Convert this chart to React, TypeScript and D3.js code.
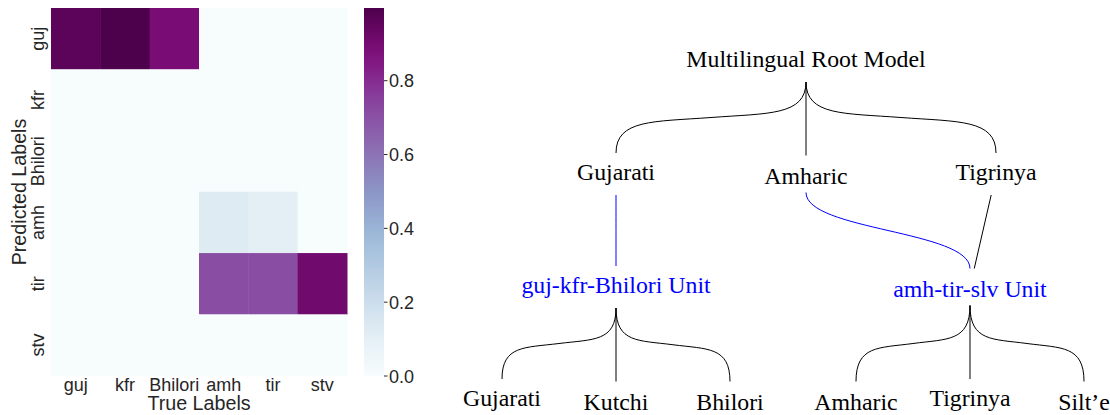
import React from 'react';
import * as d3 from 'd3';

// confusion matrix: rows = predicted, columns = true
const rowLabels = ['guj', 'kfr', 'Bhilori', 'amh', 'tir', 'stv'];
const colLabels = ['guj', 'kfr', 'Bhilori', 'amh', 'tir', 'stv'];
const gujRow = [0.96, 0.997, 0.89, 0, 0, 0];
const kfrRow = [0, 0, 0, 0, 0, 0];
const bhiloriRow = [0, 0, 0, 0, 0, 0];
const amhRow = [0, 0, 0, 0.13, 0.11, 0];
const tirRow = [0, 0, 0, 0.71, 0.71, 0.91];
const stvRow = [0, 0, 0, 0, 0, 0];
const matrix = [gujRow, kfrRow, bhiloriRow, amhRow, tirRow, stvRow];
const colorbarTicks = [0, 0.2, 0.4, 0.6, 0.8];
const colorMax = 0.997;

// hierarchy diagram
const rootLabel = 'Multilingual Root Model';
const languageLabels = ['Gujarati', 'Amharic', 'Tigrinya'];
const unitLabels = ['guj-kfr-Bhilori Unit', 'amh-tir-slv Unit'];
const unitLeaves = [
  ['Gujarati', 'Kutchi', 'Bhilori'],
  ['Amharic', 'Tigrinya', 'Silt’e'],
];
const languageToUnit = [0, 1, 1];
const languageLinkBlue = [true, true, false];

const SANS = '"Liberation Sans", Arial, sans-serif';
const SERIF = '"Liberation Serif", "Times New Roman", serif';
const TXT = '#262626';
const BLUE = '#0000ff';

const hasDesc = (s: string) => /[gjpqy]/.test(s);
const half = (s: string) => (hasDesc(s) ? 21 : 18.5);
const baseline = (s: string, cy: number) => cy + (hasDesc(s) ? 6 : 10);

const brace = (x0: number, y0: number, x1: number, y1: number) => {
  const mx = (x0 + x1) / 2;
  const my = (y0 + y1) / 2;
  const dy = y1 - y0;
  const p = d3.path();
  p.moveTo(x0, y0);
  if (Math.abs(x1 - x0) < 1) {
    p.lineTo(x1, y1);
    return p.toString();
  }
  p.bezierCurveTo(x0, y0 + 0.95 * (my - y0), x0 + 0.4 * (mx - x0), my - 0.06 * dy, mx, my);
  p.bezierCurveTo(mx + 0.6 * (x1 - mx), my + 0.06 * dy, x1, y1 - 0.95 * (y1 - my), x1, y1);
  return p.toString();
};

const Heatmap = () => {
  const x = d3.scaleBand().domain(colLabels).range([51, 347]);
  const y = d3.scaleBand().domain(rowLabels).range([8, 375.6]);
  const stops = d3.schemeBuPu[9];
  const color = d3
    .scaleLinear<string>()
    .domain(stops.map((_, i) => (i / (stops.length - 1)) * colorMax))
    .range(stops)
    .clamp(true);
  const cb = d3.scaleLinear().domain([0, colorMax]).range([376, 8]);
  const gradStops = d3.range(0, 1.0001, 0.05);

  return (
    <g>
      <defs>
        <linearGradient id="cbar" x1="0" y1="1" x2="0" y2="0">
          {gradStops.map((t) => (
            <stop key={t} offset={t} stopColor={color(t * colorMax)} />
          ))}
        </linearGradient>
      </defs>
      {matrix.map((row, r) =>
        row.map((v, c) => (
          <rect
            key={`${r}-${c}`}
            x={x(colLabels[c])}
            y={y(rowLabels[r])}
            width={x.bandwidth() + 0.5}
            height={y.bandwidth() + 0.5}
            fill={color(v)}
          />
        ))
      )}
      {colLabels.map((l) => (
        <text
          key={l}
          x={(x(l) as number) + x.bandwidth() / 2}
          y={391}
          textAnchor="middle"
          fontFamily={SANS}
          fontSize={18}
          fill={TXT}
        >
          {l}
        </text>
      ))}
      {rowLabels.map((l) => (
        <text
          key={l}
          transform={`translate(43.5,${(y(l) as number) + y.bandwidth() / 2}) rotate(-90)`}
          textAnchor="middle"
          fontFamily={SANS}
          fontSize={18}
          fill={TXT}
        >
          {l}
        </text>
      ))}
      <text x={199} y={410} textAnchor="middle" fontFamily={SANS} fontSize={19.7} fill={TXT}>
        True Labels
      </text>
      <text
        transform="translate(26,192) rotate(-90)"
        textAnchor="middle"
        fontFamily={SANS}
        fontSize={19.7}
        fill={TXT}
      >
        Predicted Labels
      </text>
      <rect x={364} y={8} width={20} height={368} fill="url(#cbar)" />
      {colorbarTicks.map((t) => (
        <g key={t} transform={`translate(384,${cb(t)})`}>
          <line x1={0} x2={3.5} stroke={TXT} strokeWidth={1} />
          <text x={5} y={6.5} fontFamily={SANS} fontSize={18} fill={TXT}>
            {t.toFixed(1)}
          </text>
        </g>
      ))}
    </g>
  );
};

const Tree = () => {
  const levelY = d3.scaleLinear().domain([0, 3]).range([61, 400]);
  const gap = 0.105;
  const leafX = d3.scaleLinear().domain([0, 5 + gap]).range([502, 1084]);
  const leafPos = (u: number, i: number) => leafX(u * 3 + i + u * gap);
  const unitX = (u: number) => leafPos(u, 1);
  const langX = d3.scalePoint<string>().domain(languageLabels).range([616, 996]);
  const rootX = ((langX(languageLabels[0]) as number) + (langX(languageLabels[2]) as number)) / 2;

  const label = (s: string, cx: number, cy: number, fill: string, key: string) => (
    <text key={key} x={cx} y={baseline(s, cy)} textAnchor="middle" fontFamily={SERIF} fontSize={23.8} fill={fill}>
      {s}
    </text>
  );

  const paths: JSX.Element[] = [];
  const texts: JSX.Element[] = [];

  const ry = levelY(0);
  texts.push(label(rootLabel, rootX, ry, '#000', 'root'));

  languageLabels.forEach((l, i) => {
    const lx = langX(l) as number;
    const ly = levelY(1);
    texts.push(label(l, lx, ly, '#000', `lang-${i}`));
    paths.push(
      <path key={`rl-${i}`} d={brace(rootX, ry + half(rootLabel), lx, ly - half(l))} fill="none" stroke="#000" strokeWidth={1} />
    );
    const u = languageToUnit[i];
    const ux = unitX(u);
    const uy = levelY(2);
    const uLab = unitLabels[u];
    const y0 = ly + half(l);
    const y1 = uy - half(uLab);
    let d: string;
    if (languageLinkBlue[i]) {
      d = d3.linkVertical()({ source: [lx, y0], target: [ux, y1] }) as string;
    } else {
      const t0 = (y0 - ly) / (uy - ly);
      const t1 = (y1 - ly) / (uy - ly);
      d = `M${lx + (ux - lx) * t0},${y0}L${lx + (ux - lx) * t1},${y1}`;
    }
    paths.push(
      <path key={`lu-${i}`} d={d} fill="none" stroke={languageLinkBlue[i] ? BLUE : '#000'} strokeWidth={1} />
    );
  });

  unitLabels.forEach((uLab, u) => {
    const ux = unitX(u);
    const uy = levelY(2);
    texts.push(label(uLab, ux, uy, BLUE, `unit-${u}`));
    unitLeaves[u].forEach((leaf, i) => {
      const lx = leafPos(u, i);
      const ly = levelY(3);
      texts.push(label(leaf, lx, ly, '#000', `leaf-${u}-${i}`));
      paths.push(
        <path key={`ul-${u}-${i}`} d={brace(ux, uy + half(uLab), lx, ly - half(leaf))} fill="none" stroke="#000" strokeWidth={1} />
      );
    });
  });

  return (
    <g>
      {paths}
      {texts}
    </g>
  );
};

export default function App() {
  return (
    <svg
      width={1110}
      height={415}
      style={{ position: 'absolute', left: 0, top: 0, background: '#fff' }}
    >
      <rect width={1110} height={415} fill="#fff" />
      <Heatmap />
      <Tree />
    </svg>
  );
}
